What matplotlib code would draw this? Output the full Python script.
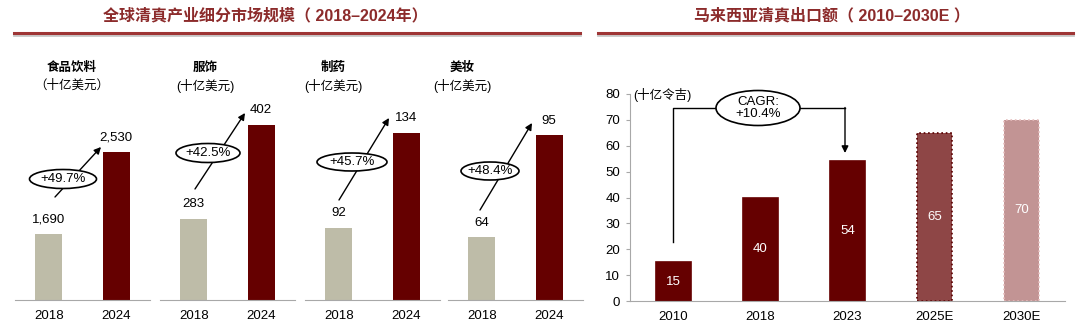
import matplotlib
matplotlib.use('Agg')
import matplotlib.pyplot as plt
from matplotlib.patches import Ellipse, FancyArrowPatch
from matplotlib.lines import Line2D

plt.rcParams['font.family'] = ['Liberation Sans', 'Noto Sans CJK SC', 'DejaVu Sans']

# ---- data ----
segments = ['食品饮料', '服饰', '制药', '美妆']
seg_years = ['2018', '2024']
seg_2018 = [1690, 283, 92, 64]
seg_2024 = [2530, 402, 134, 95]
seg_growth = ['+49.7%', '+42.5%', '+45.7%', '+48.4%']
seg_labels_2018 = ['1,690', '283', '92', '64']
seg_labels_2024 = ['2,530', '402', '134', '95']

export_years = ['2010', '2018', '2023', '2025E', '2030E']
export_values = [15, 40, 54, 65, 70]
cagr_text = 'CAGR:\n+10.4%'

W, H = 1080, 331
fig = plt.figure(figsize=(W / 100, H / 100), dpi=100)

def fx(x):
    return x / W

def fy(y):
    return 1 - y / H

def arrow(p0, p1):
    fig.add_artist(FancyArrowPatch((fx(p0[0]), fy(p0[1])), (fx(p1[0]), fy(p1[1])),
                                   transform=fig.transFigure, arrowstyle='-|>',
                                   mutation_scale=10, color='black', lw=1,
                                   shrinkA=0, shrinkB=0, zorder=3))

def bubble(c, w, h, txt, **kw):
    fig.add_artist(Ellipse((fx(c[0]), fy(c[1])), w / W, h / H, transform=fig.transFigure,
                           facecolor='white', edgecolor='black', lw=1.2, zorder=4))
    fig.text(fx(c[0]), fy(c[1]), txt, ha='center', va='center', fontsize=9.5, zorder=5, **kw)

TITLE_C = '#8C2B2B'
GRAY = '#BEBCA8'
DARK = '#650000'

# ---- headers ----
fig.text(fx(265), fy(16), '全球清真产业细分市场规模（ 2018–2024年）', ha='center', va='center',
         fontsize=11.5, fontweight='bold', color=TITLE_C)
fig.text(fx(832), fy(16), '马来西亚清真出口额（ 2010–2030E ）', ha='center', va='center',
         fontsize=11.5, fontweight='bold', color=TITLE_C)
for x0, x1 in [(14, 580), (598, 1073)]:
    fig.add_artist(Line2D([fx(x0), fx(x1)], [fy(35), fy(35)], color='#C8C8C8', lw=2))
    fig.add_artist(Line2D([fx(x0), fx(x1)], [fy(33), fy(33)], color='#9E3535', lw=2.2))

# ---- left: four small panels (each bar pair on its own scale) ----
panel_left = [15, 160, 305, 448]
panel_w = 135
ylims = [(1014, 3678), (180, 509), (60, 175), (45, 124)]
name_x = [72, 205, 333, 462]
arrows = [((55, 197), (101, 147)), ((195, 189), (245, 113)),
          ((339, 200), (389, 118)), ((480, 210), (532, 123))]
ellipses = [((63, 179), 67, 19), ((208, 153), 64, 19),
            ((352, 162), 70, 18), ((490, 171), 58, 18)]

for i, name in enumerate(segments):
    ax = fig.add_axes([fx(panel_left[i]), fy(300), panel_w / W, 260 / H])
    vals = [seg_2018[i], seg_2024[i]]
    ax.bar([0, 1], vals, width=0.4, color=[GRAY, DARK])
    ax.set_xlim(-0.5, 1.5)
    ax.set_ylim(*ylims[i])
    for s in ['top', 'left', 'right']:
        ax.spines[s].set_visible(False)
    ax.spines['bottom'].set_color('#A8A8A8')
    ax.set_yticks([])
    ax.set_xticks([0, 1])
    ax.set_xticklabels(seg_years, fontsize=9.5)
    ax.tick_params(axis='x', length=0, pad=7)
    for xi, (v, lab) in enumerate(zip(vals, [seg_labels_2018[i], seg_labels_2024[i]])):
        ax.annotate(lab, (xi, v), xytext=(0, 6), textcoords='offset points',
                    ha='center', va='bottom', fontsize=9.5)
    fig.text(fx(name_x[i]), fy(68), name, ha='center', va='center', fontsize=9, fontweight='bold')
    fig.text(fx(name_x[i]), fy(86), '（十亿美元）' if i == 0 else '(十亿美元)', ha='center',
             va='center', fontsize=9)
    arrow(*arrows[i])
    (cx, cy), ew, eh = ellipses[i]
    bubble((cx, cy), ew, eh, seg_growth[i])

# ---- right: Malaysia halal exports ----
ax = fig.add_axes([fx(630), fy(301), 435 / W, 207 / H])
x = range(len(export_years))
faces = [DARK, DARK, DARK, '#8E4646', '#C29494']
edges = [DARK, DARK, DARK, '#5A0000', '#E6BEBE']
styles = ['-', '-', '-', ':', ':']
bars = ax.bar(x, export_values, width=0.4, color=faces)
for b, ec, ls in zip(bars, edges, styles):
    b.set_edgecolor(ec)
    b.set_linestyle(ls)
    b.set_linewidth(1.2)
for xi, v in zip(x, export_values):
    ax.text(xi, v / 2, str(v), ha='center', va='center', color='white', fontsize=9.5)
ax.set_xlim(-0.5, 4.5)
ax.set_ylim(0, 80)
ax.set_yticks(range(0, 81, 10))
ax.set_xticks(list(x))
ax.set_xticklabels(export_years, fontsize=9.5)
ax.tick_params(axis='y', labelsize=9.5, length=3, color='#A8A8A8', pad=4)
ax.tick_params(axis='x', length=0, pad=7)
for s in ['top', 'right']:
    ax.spines[s].set_visible(False)
ax.spines['left'].set_color('#A8A8A8')
ax.spines['bottom'].set_color('#A8A8A8')
fig.text(fx(633), fy(95), '(十亿令吉)', ha='left', va='center', fontsize=9)

# CAGR bracket
fig.add_artist(Line2D([fx(673), fx(673), fx(845)], [fy(242), fy(108), fy(108)],
                      color='black', lw=1, zorder=3))
arrow((845, 107.5), (845, 153))
bubble((758, 108), 84, 35, cagr_text, linespacing=1.05)

fig.savefig('out.png', dpi=100)
